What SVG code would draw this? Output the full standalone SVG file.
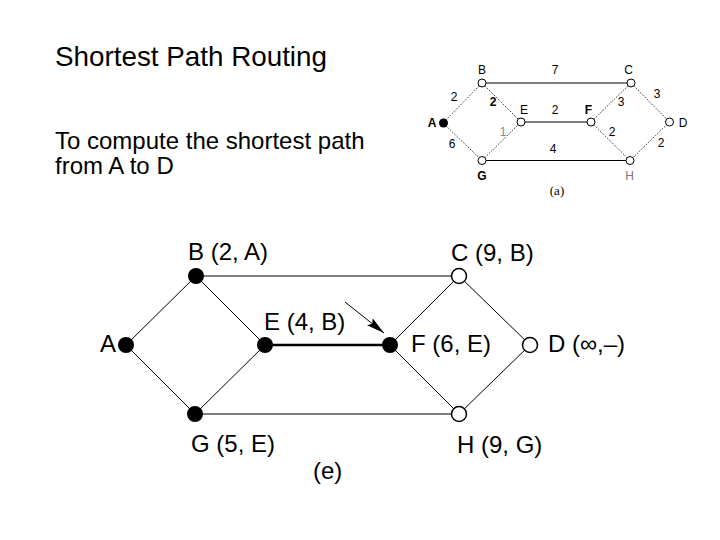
<svg xmlns="http://www.w3.org/2000/svg" width="720" height="540" viewBox="0 0 720 540">
<style>
.t{font-family:"Liberation Sans",Arial,sans-serif;fill:#000}
.title{font-size:27.8px}
.body{font-size:24px}
.big{font-size:24px}
.sm{font-size:12px;text-anchor:middle}
.cap{font-family:"Liberation Serif","Times New Roman",serif;font-size:13px;text-anchor:middle;fill:#000}
.solid{stroke:#000;stroke-width:1;fill:none}
.dot{stroke:#000;stroke-width:1;stroke-dasharray:1 1.5;fill:none}
.thin{stroke:#000;stroke-width:1;fill:none}
.thick{stroke:#000;stroke-width:2.6;fill:none}
.fs{fill:#000}
.os{fill:#fff;stroke:#000;stroke-width:1}
.fb{fill:#000}
.ob{fill:#fff;stroke:#000;stroke-width:1.5}
</style>
<defs>
<marker id="ah" markerUnits="userSpaceOnUse" markerWidth="20" markerHeight="10" refX="18" refY="4.5" orient="auto">
<path d="M0,0 L18,4.5 L0,9 L3,4.5 Z" fill="#000"/>
</marker>
</defs>
<rect width="720" height="540" fill="#fff"/>
<text class="t title" x="55" y="66">Shortest Path Routing</text>
<text class="t body" x="55" y="149">To compute the shortest path</text>
<text class="t body" x="55" y="174">from A to D</text>

<!-- small graph (a) -->
<g id="small-edges">
<line class="solid" x1="482" y1="83" x2="631" y2="83"/>
<line class="solid" x1="521" y1="122" x2="591" y2="122"/>
<line class="solid" x1="482" y1="160.5" x2="630" y2="160.5"/>
<line class="dot" x1="443" y1="123" x2="482" y2="83"/>
<line class="dot" x1="443" y1="123" x2="482" y2="160.5"/>
<line class="dot" x1="482" y1="83" x2="521" y2="122"/>
<line class="dot" x1="482" y1="160.5" x2="521" y2="122"/>
<line class="dot" x1="631" y1="83" x2="591" y2="122"/>
<line class="dot" x1="591" y1="122" x2="630" y2="160.5"/>
<line class="dot" x1="631" y1="83" x2="669.5" y2="122"/>
<line class="dot" x1="630" y1="160.5" x2="669.5" y2="122"/>
</g>
<g id="small-A"><circle class="fs" cx="443.5" cy="123" r="4.5"/><text class="t sm" x="432" y="127" font-weight="bold">A</text></g>
<g id="small-B"><circle class="os" cx="482" cy="83" r="4"/><text class="t sm" x="482" y="73.5">B</text></g>
<g id="small-C"><circle class="os" cx="631" cy="83" r="4"/><text class="t sm" x="628.5" y="73.5">C</text></g>
<g id="small-E"><circle class="os" cx="521" cy="122" r="4"/><text class="t sm" x="524" y="114">E</text></g>
<g id="small-F"><circle class="os" cx="591" cy="122" r="4"/><text class="t sm" x="588.5" y="114" font-weight="bold">F</text></g>
<g id="small-D"><circle class="os" cx="669.5" cy="122" r="4"/><text class="t sm" x="683" y="127">D</text></g>
<g id="small-G"><circle class="os" cx="482" cy="160.5" r="4"/><text class="t sm" x="482" y="180" font-weight="bold">G</text></g>
<g id="small-H"><circle class="os" cx="630" cy="160.5" r="4"/><text class="t sm" x="629.5" y="180" fill="#777" style="fill:#777">H</text></g>
<g id="small-weights">
<text class="t sm" x="555" y="73.5">7</text>
<text class="t sm" x="454" y="101">2</text>
<text class="t sm" x="493" y="106" font-weight="bold">2</text>
<text class="t sm" x="555" y="114">2</text>
<text class="t sm" x="621" y="106">3</text>
<text class="t sm" x="657" y="98">3</text>
<text class="t sm" x="503" y="136" style="fill:#888">1</text>
<text class="t sm" x="612" y="136">2</text>
<text class="t sm" x="452" y="148">6</text>
<text class="t sm" x="553" y="153">4</text>
<text class="t sm" x="661" y="147">2</text>
</g>
<text class="cap" x="557" y="195">(a)</text>

<!-- large graph (e) -->
<g id="connectors">
<line class="thin" x1="196" y1="276" x2="459" y2="276"/>
<line class="thick" x1="265" y1="345" x2="390" y2="345"/>
<line class="thin" x1="195" y1="414" x2="459" y2="414"/>
<line class="thin" x1="126" y1="345" x2="196" y2="276"/>
<line class="thin" x1="126" y1="345" x2="195" y2="414"/>
<line class="thin" x1="196" y1="276" x2="265" y2="345"/>
<line class="thin" x1="195" y1="414" x2="265" y2="345"/>
<line class="thin" x1="459" y1="276" x2="390" y2="345"/>
<line class="thin" x1="390" y1="345" x2="459" y2="414"/>
<line class="thin" x1="459" y1="276" x2="530" y2="345"/>
<line class="thin" x1="459" y1="414" x2="530" y2="345"/>
<line class="thin" x1="345" y1="302" x2="384" y2="333" marker-end="url(#ah)"/>
</g>
<g id="node-A"><circle class="fb" cx="126" cy="345" r="8"/><text class="t big" x="100" y="352">A</text></g>
<g id="node-B"><circle class="fb" cx="196" cy="276" r="8"/><text class="t big" x="188" y="260">B (2, A)</text></g>
<g id="node-E"><circle class="fb" cx="265" cy="345" r="8"/><text class="t big" x="264" y="330">E (4, B)</text></g>
<g id="node-F"><circle class="fb" cx="390" cy="345" r="8"/><text class="t big" x="411" y="352">F (6, E)</text></g>
<g id="node-G"><circle class="fb" cx="195" cy="414" r="8"/><text class="t big" x="191" y="452">G (5, E)</text></g>
<g id="node-C"><circle class="ob" cx="459" cy="276" r="7.5"/><text class="t big" x="451" y="261">C (9, B)</text></g>
<g id="node-D"><circle class="ob" cx="530" cy="345" r="7.5"/><text class="t big" x="548" y="352">D (∞,–)</text></g>
<g id="node-H"><circle class="ob" cx="459" cy="414" r="7.5"/><text class="t big" x="457" y="453">H (9, G)</text></g>
<text class="t big" x="313" y="479">(e)</text>
</svg>
